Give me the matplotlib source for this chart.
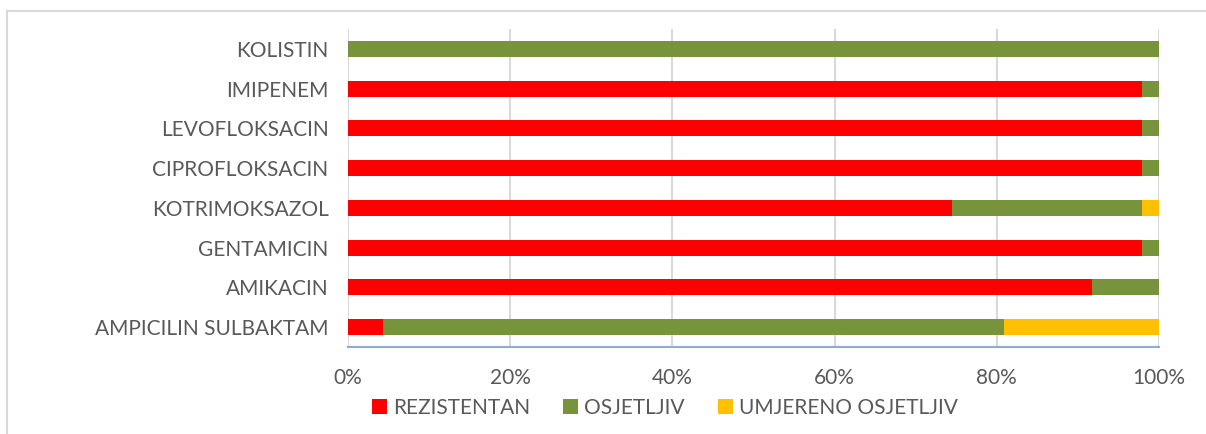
import matplotlib
matplotlib.use("Agg")
import matplotlib.pyplot as plt
from matplotlib.ticker import PercentFormatter
from matplotlib.lines import Line2D

categories = ["AMPICILIN SULBAKTAM", "AMIKACIN", "GENTAMICIN", "KOTRIMOKSAZOL",
              "CIPROFLOKSACIN", "LEVOFLOKSACIN", "IMIPENEM", "KOLISTIN"]
rezistentan = [4.3, 91.7, 97.9, 74.5, 97.9, 97.9, 97.9, 0.0]
osjetljiv = [76.6, 8.3, 2.1, 23.4, 2.1, 2.1, 2.1, 100.0]
umjereno = [19.1, 0.0, 0.0, 2.1, 0.0, 0.0, 0.0, 0.0]
series_names = ["REZISTENTAN", "OSJETLJIV", "UMJERENO OSJETLJIV"]
colors = ["#ff0000", "#77933c", "#ffc000"]
xticks = [0, 20, 40, 60, 80, 100]

plt.rcParams['font.family'] = ['Lato', 'DejaVu Sans']
txt = "#595959"

fig = plt.figure(figsize=(12.06, 4.34), dpi=100)
ax = fig.add_axes([348/1206, 1-347/434, (1159-348)/1206, (347-29)/434])

y = list(range(len(categories)))
left = [0.0]*len(categories)
for vals, name, c in zip([rezistentan, osjetljiv, umjereno], series_names, colors):
    ax.barh(y, vals, left=left, height=0.4, color=c, label=name, zorder=3)
    left = [l + v for l, v in zip(left, vals)]

ax.set_xlim(0, 100)
ax.set_ylim(-0.5, len(categories)-0.5)
ax.set_yticks(y)
ax.set_yticklabels(categories)
ax.set_xticks(xticks)
ax.xaxis.set_major_formatter(PercentFormatter(decimals=0))
ax.tick_params(axis='both', length=0, labelsize=15, colors=txt)
ax.tick_params(axis='x', pad=15)
ax.tick_params(axis='y', pad=14)
ax.grid(axis='x', color="#d9d9d9", linewidth=1.5, zorder=0)
for s in ["top", "right", "left"]:
    ax.spines[s].set_visible(False)
ax.spines["bottom"].set_color("#8eaadb")
ax.spines["bottom"].set_linewidth(1.5)

handles, labels = ax.get_legend_handles_labels()
fig.legend(handles, labels, loc="center", bbox_to_anchor=(665/1206, 1-408/434),
           ncol=3, frameon=False, fontsize=15, labelcolor=txt,
           handlelength=0.7, handleheight=0.7, handletextpad=0.3, columnspacing=1.6)

# chart frame (top and left edges visible)
fig.add_artist(Line2D([6.5/1206, 6.5/1206], [0, 1-10.5/434], transform=fig.transFigure,
                      color="#d9d9d9", linewidth=1.5))
fig.add_artist(Line2D([6.5/1206, 1], [1-10.5/434, 1-10.5/434], transform=fig.transFigure,
                      color="#d9d9d9", linewidth=1.5))

fig.savefig("out.png", dpi=100)
